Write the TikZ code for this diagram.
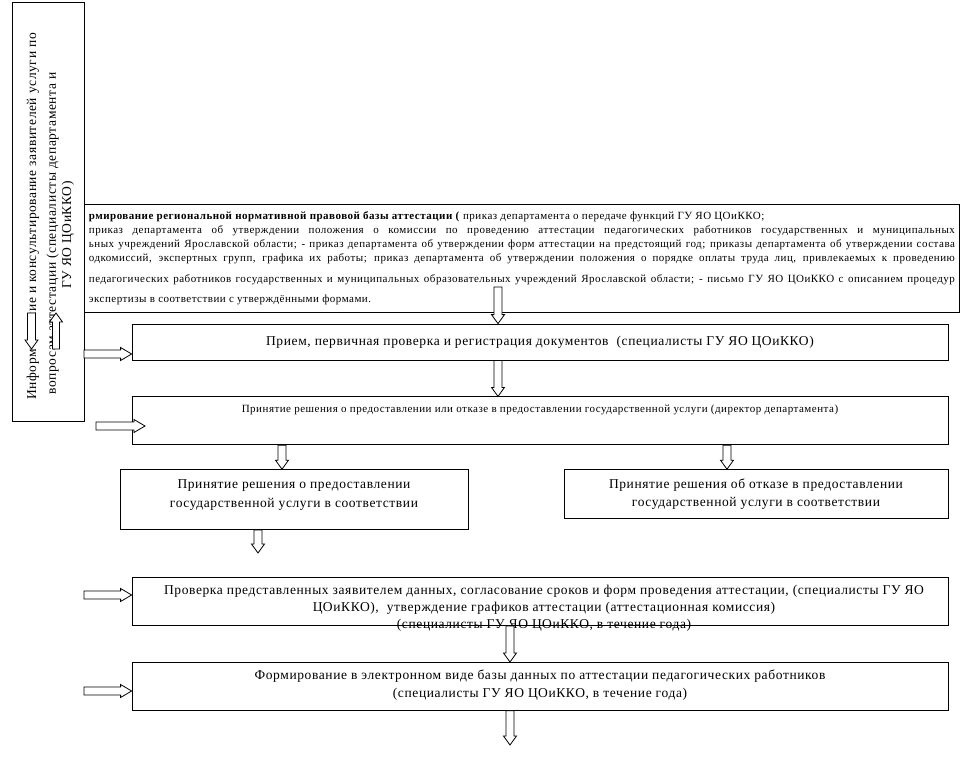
\documentclass[tikz,border=0pt]{standalone}
\usepackage{fontspec}
\setmainfont{Liberation Serif}[LetterSpace=4.5]
\usetikzlibrary{positioning,calc}
\tikzset{
  box/.style={draw, fill=white, align=center, inner sep=4pt, font=\fontsize{13.5}{18}\selectfont},
  boxtext/.style={align=center, inner sep=0pt, font=\fontsize{13.5}{17}\selectfont},
  rottext/.style={rotate=90, inner sep=0pt, font=\fontsize{13.5}{17}\selectfont},
  darrow/.style={draw, fill=white, to path={let \p1=(\tikztostart), \p2=(\tikztotarget) in
    (\x1-4pt,\y1) -- (\x1-4pt,\y2+9pt) -- (\x1-6.5pt,\y2+9pt) -- (\x1,\y2)
    -- (\x1+6.5pt,\y2+9pt) -- (\x1+4pt,\y2+9pt) -- (\x1+4pt,\y1) -- cycle}},
  uarrow/.style={draw, fill=white, to path={let \p1=(\tikztostart), \p2=(\tikztotarget) in
    (\x1-3.5pt,\y1) -- (\x1-3.5pt,\y2-9pt) -- (\x1-6.5pt,\y2-9pt) -- (\x1,\y2)
    -- (\x1+6.5pt,\y2-9pt) -- (\x1+3.5pt,\y2-9pt) -- (\x1+3.5pt,\y1) -- cycle}},
  rarrow/.style={draw, fill=white, to path={let \p1=(\tikztostart), \p2=(\tikztotarget) in
    (\x1,\y1+4pt) -- (\x2-11pt,\y1+4pt) -- (\x2-11pt,\y1+6.5pt) -- (\x2,\y1)
    -- (\x2-11pt,\y1-6.5pt) -- (\x2-11pt,\y1-4pt) -- (\x1,\y1-4pt) -- cycle}},
}
\begin{document}
\begin{tikzpicture}[x=1pt, y=-1pt, line width=0.8pt, node distance=36pt]
  \useasboundingbox (0,0) rectangle (962,781);

  % informing column
  \node[box, anchor=north west, minimum width=72pt, minimum height=419pt] (info) at (12,2) {};
  \node[rottext, anchor=base west] (info1a) at (36,400) {Информ};
  \node[rottext, anchor=base west] (info1b) at (36,320) {ние и консультирование заявителей услуги по};
  \node[rottext, anchor=base west] (info2) at (56,395) {вопросам аттестации (специалисты департамента и};
  \node[rottext, anchor=base] (info3) at (71,235) {ГУ ЯО ЦОиККО)};

  % regulatory base
  \node[box, anchor=north west, minimum width=875pt, minimum height=108pt, align=left,
        inner xsep=1pt, font=\fontsize{11}{14}\selectfont] (base) at (84,204)
    {\textbf{рмирование региональной нормативной правовой базы аттестации (} приказ департамента о передаче функций ГУ ЯО ЦОиККО;\\
     \makebox[866pt][s]{приказ департамента об утверждении положения о комиссии по проведению аттестации педагогических работников государственных и муниципальных}\\
     \makebox[866pt][s]{ьных учреждений Ярославской области; - приказ департамента об утверждении форм аттестации на предстоящий год; приказы департамента об утверждении состава}\\
     \makebox[866pt][s]{одкомиссий, экспертных групп, графика их работы; приказ департамента об утверждении положения о порядке оплаты труда лиц, привлекаемых к проведению}\\[7pt]
     \makebox[866pt][s]{педагогических работников государственных и муниципальных образовательных учреждений Ярославской области; - письмо ГУ ЯО ЦОиККО с описанием процедур}\\[6pt]
     экспертизы в соответствии с утверждёнными формами.};

  % main chain
  \node[box, minimum width=816pt, minimum height=36pt] (recv) at (540,342)
    {Прием, первичная проверка и регистрация документов~ (специалисты ГУ ЯО ЦОиККО)};
  \node[box, minimum width=816pt, text height=12pt, text depth=28pt, below=of recv,
        font=\fontsize{11}{14}\selectfont] (decide)
    {Принятие решения о предоставлении или отказе в предоставлении государственной услуги (директор департамента)};
  \node[box, minimum width=348pt, text height=34pt, text depth=18pt, font=\fontsize{13.5}{19}\selectfont,
        below right=24pt and -12pt of decide.south west] (grant)
    {Принятие решения о предоставлении\\государственной услуги в соответствии};
  \node[box, minimum width=384pt, minimum height=49pt, below left=24pt and 0pt of decide.south east] (refuse)
    {Принятие решения об отказе в предоставлении\\государственной услуги в соответствии};
  \node[box, minimum width=816pt, minimum height=48pt, below=132pt of decide] (check) {};
  \node[boxtext, anchor=north] (checktxt) at ([xshift=4pt, yshift=-8pt]check.north)
    {Проверка представленных заявителем данных, согласование сроков и форм проведения аттестации, (специалисты ГУ ЯО\\
     ЦОиККО),~ утверждение графиков аттестации (аттестационная комиссия)\\
     (специалисты ГУ ЯО ЦОиККО, в течение года)};
  \node[box, minimum width=816pt, text height=31pt, text depth=9pt, below=of check] (db)
    {Формирование в электронном виде базы данных по аттестации педагогических работников\\
     (специалисты ГУ ЯО ЦОиККО, в течение года)};

  % arrow positions
  \coordinate (a1) at (498,287);
  \coordinate (a3) at (282,0);
  \coordinate (a4) at (727,0);
  \coordinate (a5) at (258,553);
  \coordinate (a6) at (510,0);
  \coordinate (a7) at (510,745);
  \coordinate (r1) at (84,354);
  \coordinate (r2) at (96,426);
  \coordinate (r2e) at (145,426);
  \coordinate (r3) at (84,595);
  \coordinate (r4) at (84,691);

  \draw[darrow] (a1) to (a1 |- recv.north);
  \draw[darrow] (a1 |- recv.south) to (a1 |- decide.north);
  \draw[darrow] (a3 |- decide.south) to (a3 |- grant.north);
  \draw[darrow] (a4 |- decide.south) to (a4 |- refuse.north);
  \draw[darrow] (a5 |- grant.south) to (a5);
  \draw[darrow] (a6 |- check.south) to (a6 |- db.north);
  \draw[darrow] (db.south -| a7) to (a7);

  \draw[rarrow] (r1) to (r1 -| recv.west);
  \draw[rarrow] (r2) to (r2e);
  \draw[rarrow] (r3) to (r3 -| check.west);
  \draw[rarrow] (r4) to (r4 -| db.west);

  % arrows inside the informing column
  \draw[darrow] (31.5,313) to (31.5,349);
  \draw[uarrow] (56,349) to (56,313);
\end{tikzpicture}
\end{document}
